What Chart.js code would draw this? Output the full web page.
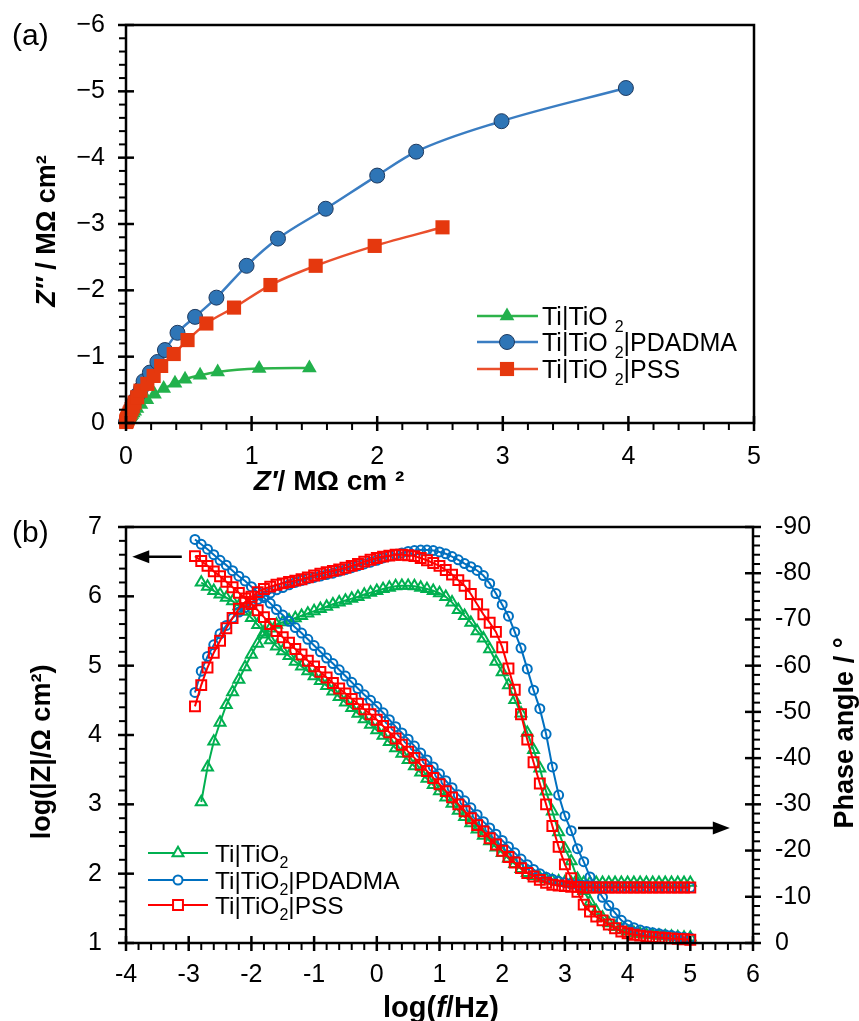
<!DOCTYPE html>
<html><head><meta charset="utf-8">
<script src="https://cdn.jsdelivr.net/npm/chart.js@4.4.1/dist/chart.umd.min.js"></script>
<style>
html,body{margin:0;padding:0;background:#fff;}
body{width:859px;height:1021px;overflow:hidden;position:relative;}
#ca{position:absolute;left:0;top:0;}
#cb{position:absolute;left:0;top:500px;}
</style></head>
<body>
<canvas id="ca" width="859" height="500"></canvas>
<canvas id="cb" width="859" height="521"></canvas>
<script>
// ---------------- DATA ----------------
const seriesNames = ['Ti|TiO2', 'Ti|TiO2|PDADMA', 'Ti|TiO2|PSS'];

// (a) Nyquist, Z' and Z'' in MΩ cm²
const nyqTiO2X = [0.005,0.008,0.010,0.012,0.015,0.018,0.022,0.027,0.032,0.039,0.047,0.057,0.069,0.087,0.119,0.166,0.227,0.30,0.39,0.47,0.59,0.73,1.06,1.46];
const nyqTiO2Y = [-0.015,-0.025,-0.033,-0.041,-0.049,-0.057,-0.067,-0.079,-0.093,-0.108,-0.130,-0.152,-0.178,-0.217,-0.278,-0.352,-0.434,-0.52,-0.60,-0.66,-0.72,-0.77,-0.82,-0.83];
const nyqPdadmaX = [0.003,0.004,0.005,0.007,0.009,0.011,0.014,0.018,0.023,0.029,0.037,0.047,0.059,0.074,0.094,0.12,0.14,0.19,0.25,0.31,0.41,0.55,0.72,0.96,1.21,1.59,2.00,2.31,2.99,3.98];
const nyqPdadmaY = [-0.025,-0.030,-0.037,-0.046,-0.057,-0.070,-0.086,-0.105,-0.127,-0.155,-0.191,-0.235,-0.289,-0.347,-0.427,-0.52,-0.63,-0.76,-0.92,-1.10,-1.36,-1.60,-1.89,-2.37,-2.78,-3.23,-3.73,-4.09,-4.55,-5.05];
const nyqPssX = [0.002,0.004,0.006,0.0075,0.009,0.012,0.015,0.018,0.022,0.028,0.035,0.044,0.054,0.068,0.089,0.115,0.17,0.22,0.28,0.38,0.49,0.64,0.86,1.15,1.51,1.98,2.52];
const nyqPssY = [-0.015,-0.03,-0.039,-0.046,-0.055,-0.067,-0.080,-0.096,-0.115,-0.142,-0.170,-0.209,-0.251,-0.309,-0.388,-0.487,-0.59,-0.71,-0.86,-1.04,-1.25,-1.50,-1.74,-2.08,-2.37,-2.67,-2.95];

// (b) Bode: log f
const logF = [-2.9,-2.8,-2.7,-2.6,-2.5,-2.4,-2.3,-2.2,-2.1,-2.0,-1.9,-1.8,-1.7,-1.6,-1.5,-1.4,-1.3,-1.2,-1.1,-1.0,-0.9,-0.8,-0.7,-0.6,-0.5,-0.4,-0.3,-0.2,-0.1,0.0,0.1,0.2,0.3,0.4,0.5,0.6,0.7,0.8,0.9,1.0,1.1,1.2,1.3,1.4,1.5,1.6,1.7,1.8,1.9,2.0,2.1,2.2,2.3,2.4,2.5,2.6,2.7,2.8,2.9,3.0,3.1,3.2,3.3,3.4,3.5,3.6,3.7,3.8,3.9,4.0,4.1,4.2,4.3,4.4,4.5,4.6,4.7,4.8,4.9,5.0];
const logFTiO2 = [-2.8,-2.7,-2.6,-2.5,-2.4,-2.3,-2.2,-2.1,-2.0,-1.9,-1.8,-1.7,-1.6,-1.5,-1.4,-1.3,-1.2,-1.1,-1.0,-0.9,-0.8,-0.7,-0.6,-0.5,-0.4,-0.3,-0.2,-0.1,0.0,0.1,0.2,0.3,0.4,0.5,0.6,0.7,0.8,0.9,1.0,1.1,1.2,1.3,1.4,1.5,1.6,1.7,1.8,1.9,2.0,2.1,2.2,2.3,2.4,2.5,2.6,2.7,2.8,2.9,3.0,3.1,3.2,3.3,3.4,3.5,3.6,3.7,3.8,3.9,4.0,4.1,4.2,4.3,4.4,4.5,4.6,4.7,4.8,4.9,5.0];

// log(|Z| / Ω cm²)
const logZTiO2 = [6.20,6.14,6.08,6.03,5.98,5.93,5.86,5.78,5.69,5.59,5.48,5.37,5.28,5.21,5.14,5.06,4.99,4.92,4.85,4.78,4.71,4.63,4.55,4.47,4.39,4.31,4.23,4.15,4.07,3.99,3.90,3.81,3.73,3.64,3.55,3.46,3.37,3.28,3.19,3.10,3.01,2.91,2.82,2.73,2.64,2.55,2.47,2.38,2.30,2.22,2.14,2.07,2.01,1.97,1.94,1.92,1.90,1.89,1.88,1.87,1.87,1.87,1.87,1.87,1.87,1.87,1.87,1.87,1.87,1.87,1.87,1.87,1.87,1.87,1.87,1.87,1.87,1.87,1.87];
const logZPdadma = [6.82,6.75,6.68,6.60,6.52,6.45,6.37,6.29,6.22,6.14,6.06,5.98,5.90,5.81,5.73,5.64,5.55,5.47,5.38,5.29,5.20,5.11,5.03,4.94,4.85,4.76,4.67,4.58,4.50,4.41,4.32,4.22,4.12,4.03,3.94,3.84,3.74,3.64,3.54,3.44,3.34,3.24,3.14,3.05,2.95,2.85,2.75,2.66,2.57,2.48,2.39,2.30,2.21,2.13,2.06,2.00,1.95,1.92,1.89,1.87,1.85,1.84,1.83,1.82,1.82,1.81,1.81,1.81,1.81,1.81,1.81,1.81,1.81,1.80,1.80,1.80,1.80,1.80,1.80,1.80];
const logZPss = [6.58,6.51,6.44,6.36,6.29,6.21,6.13,6.05,5.97,5.89,5.80,5.70,5.60,5.50,5.41,5.33,5.24,5.16,5.07,4.99,4.91,4.83,4.75,4.67,4.60,4.52,4.45,4.37,4.30,4.22,4.13,4.04,3.95,3.86,3.76,3.67,3.57,3.48,3.38,3.29,3.19,3.10,3.00,2.90,2.80,2.70,2.61,2.51,2.42,2.33,2.24,2.16,2.08,2.01,1.96,1.91,1.87,1.84,1.83,1.82,1.81,1.81,1.80,1.80,1.80,1.80,1.80,1.80,1.80,1.80,1.80,1.80,1.80,1.80,1.80,1.80,1.80,1.80,1.80,1.80];

// phase angle (°)
const phaseTiO2 = [-30.5,-38.0,-43.6,-47.7,-51.5,-54.3,-57.0,-59.7,-62.4,-64.8,-66.8,-68.1,-68.9,-69.4,-69.8,-70.3,-70.8,-71.3,-71.8,-72.3,-72.8,-73.3,-73.7,-74.1,-74.5,-74.9,-75.4,-75.8,-76.2,-76.6,-76.9,-77.2,-77.3,-77.3,-77.2,-76.9,-76.6,-76.2,-75.7,-74.9,-73.7,-72.1,-70.8,-69.3,-67.5,-65.9,-63.6,-60.9,-58.6,-55.8,-52.6,-49.7,-45.5,-41.8,-37.8,-32.8,-28.5,-24.0,-20.4,-17.7,-13.9,-11.3,-8.9,-6.9,-5.5,-4.3,-3.5,-2.9,-2.5,-2.2,-2.0,-1.8,-1.7,-1.6,-1.5,-1.4,-1.3,-1.2,-1.2];
const phasePdadma = [-54.2,-58.8,-62.0,-64.5,-66.9,-68.7,-70.3,-71.6,-72.6,-73.5,-74.3,-75.0,-75.7,-76.4,-76.9,-77.5,-78.0,-78.4,-78.8,-79.1,-79.4,-79.7,-80.0,-80.4,-80.8,-81.2,-81.6,-82.0,-82.4,-82.8,-83.3,-83.7,-84.1,-84.4,-84.7,-84.9,-85.0,-85.0,-84.9,-84.6,-84.2,-83.6,-82.9,-82.1,-81.4,-80.6,-79.5,-77.8,-75.6,-73.2,-70.7,-67.3,-63.8,-59.3,-54.7,-50.7,-45.2,-38.1,-32.0,-27.5,-24.3,-20.4,-17.6,-14.3,-12.0,-9.9,-8.1,-6.5,-4.9,-3.9,-3.3,-2.8,-2.5,-2.2,-2.0,-1.8,-1.6,-1.4,-1.2,-1.1];
const phasePss = [-51.2,-55.8,-59.6,-62.8,-65.4,-68.1,-70.3,-72.3,-73.8,-74.9,-75.9,-76.6,-77.1,-77.5,-77.8,-78.1,-78.4,-78.7,-79.1,-79.5,-79.9,-80.2,-80.5,-80.8,-81.2,-81.6,-82.0,-82.5,-82.9,-83.3,-83.6,-83.8,-84.0,-84.0,-83.9,-83.7,-83.3,-82.8,-82.2,-81.6,-80.7,-79.7,-78.5,-77.3,-75.5,-73.3,-71.1,-69.3,-67.3,-64.0,-59.4,-54.8,-49.5,-44.0,-39.1,-34.5,-30.0,-25.3,-20.8,-17.0,-14.0,-11.1,-8.3,-6.8,-5.7,-4.9,-4.0,-3.2,-2.5,-2.1,-1.8,-1.6,-1.4,-1.3,-1.2,-1.1,-1.0,-0.9,-0.8,-0.7];

// tick labels
const nyqXTicks = [0,1,2,3,4,5];
const nyqYTicks = [-6,-5,-4,-3,-2,-1,0];
const bodeXTicks = [-4,-3,-2,-1,0,1,2,3,4,5,6];
const bodeZTicks = [1,2,3,4,5,6,7];
const bodePhaseTicks = [-90,-80,-70,-60,-50,-40,-30,-20,-10,0];

// ---------------- HELPERS ----------------
const FAM = "'Liberation Sans', Arial, sans-serif";
const zip = (xs, ys) => xs.map((x, i) => ({x: x, y: ys[i]}));

function rich(ctx, parts, x, y, rot, align) {
  ctx.save();
  ctx.translate(x, y);
  if (rot) ctx.rotate(rot);
  let w = 0;
  parts.forEach(p => { ctx.font = p.f; p.w = ctx.measureText(p.t).width; w += p.w; });
  let cx = align === 'left' ? 0 : -w / 2;
  ctx.textAlign = 'left'; ctx.textBaseline = 'alphabetic'; ctx.fillStyle = '#000';
  parts.forEach(p => { ctx.font = p.f; ctx.fillText(p.t, cx, p.dy || 0); cx += p.w; });
  ctx.restore();
}

function marker(ctx, style, x, y, r, fill, stroke, bw) {
  ctx.save();
  ctx.beginPath();
  if (style === 'circle') ctx.arc(x, y, r, 0, Math.PI * 2);
  else if (style === 'rect') { const s = r * Math.SQRT1_2; ctx.rect(x - s, y - s, 2 * s, 2 * s); }
  else if (style === 'triangle') {
    let a = 0;
    ctx.moveTo(x + Math.sin(a) * r, y - Math.cos(a) * r); a += 2 * Math.PI / 3;
    ctx.lineTo(x + Math.sin(a) * r, y - Math.cos(a) * r); a += 2 * Math.PI / 3;
    ctx.lineTo(x + Math.sin(a) * r, y - Math.cos(a) * r);
    ctx.closePath();
  }
  if (fill) { ctx.fillStyle = fill; ctx.fill(); }
  if (bw > 0) { ctx.lineWidth = bw; ctx.strokeStyle = stroke; ctx.stroke(); }
  ctx.restore();
}

function vals(min, max, step, skip) {
  const out = [];
  for (let k = 0; ; k++) {
    const v = min + k * step;
    if (v > max + 1e-9) break;
    if (skip && skip.some(m => Math.abs(m - v) < 1e-6)) continue;
    out.push(v);
  }
  return out;
}

function xTicks(ctx, scale, yPix, values, up, down) {
  values.forEach(v => {
    const x = scale.getPixelForValue(v);
    ctx.beginPath(); ctx.moveTo(x, yPix - up); ctx.lineTo(x, yPix + down); ctx.stroke();
  });
}
function yTicks(ctx, scale, xPix, values, left, right) {
  values.forEach(v => {
    const y = scale.getPixelForValue(v);
    ctx.beginPath(); ctx.moveTo(xPix - left, y); ctx.lineTo(xPix + right, y); ctx.stroke();
  });
}

function arrow(ctx, x1, y1, x2, y2) {
  const dir = Math.sign(x2 - x1);
  ctx.save();
  ctx.strokeStyle = '#000'; ctx.fillStyle = '#000'; ctx.lineWidth = 2.5;
  ctx.beginPath(); ctx.moveTo(x1, y1); ctx.lineTo(x2 - dir * 12, y2); ctx.stroke();
  ctx.beginPath(); ctx.moveTo(x2, y2); ctx.lineTo(x2 - dir * 17, y2 - 6.5); ctx.lineTo(x2 - dir * 17, y2 + 6.5); ctx.closePath(); ctx.fill();
  ctx.restore();
}

const tickFont = {family: FAM, size: 25};
const noPad = s => { s.paddingTop = 0; s.paddingBottom = 0; s.paddingLeft = 0; s.paddingRight = 0; };

// ---------------- CHART (a) ----------------
const colA = {
  green: '#22B14C', greenLine: '#2DB34A',
  blue: '#2E75B6', blueEdge: '#1F3A5F', blueLine: '#3A7DC2',
  red: '#E5380E', redLine: '#EA4F2C'
};

const plugA = {
  id: 'plugA',
  afterDatasetsDraw(chart) {
    const {ctx, chartArea: a, scales: {x, y}} = chart;
    ctx.save();
    ctx.strokeStyle = '#000'; ctx.lineCap = 'butt';
    ctx.lineWidth = 2.5;
    ctx.strokeRect(a.left, a.top, a.right - a.left, a.bottom - a.top);
    xTicks(ctx, x, a.bottom, nyqXTicks, 7, 8);
    yTicks(ctx, y, a.left, nyqYTicks, 8, 8);
    ctx.lineWidth = 2;
    xTicks(ctx, x, a.bottom, vals(0, 5, 0.2, nyqXTicks), 0, 7);
    yTicks(ctx, y, a.left, vals(-6, 0, 0.2, nyqYTicks), 7, 0);
    ctx.restore();

    // legend
    const rows = [
      {y: 316, c: colA.greenLine, st: 'triangle', r: 8.5, f: colA.green, e: colA.green, bw: 0, rest: ''},
      {y: 342, c: colA.blueLine, st: 'circle', r: 7.5, f: colA.blue, e: colA.blueEdge, bw: 1, rest: '|PDADMA'},
      {y: 369, c: colA.redLine, st: 'rect', r: 10, f: colA.red, e: colA.red, bw: 0, rest: '|PSS'}
    ];
    rows.forEach(rw => {
      ctx.save();
      ctx.strokeStyle = rw.c; ctx.lineWidth = 2.5;
      ctx.beginPath(); ctx.moveTo(477, rw.y); ctx.lineTo(538, rw.y); ctx.stroke();
      ctx.restore();
      marker(ctx, rw.st, 507, rw.y, rw.r, rw.f, rw.e, rw.bw);
      const parts = [{t: 'Ti|TiO ', f: '25px ' + FAM}, {t: '2', f: '16px ' + FAM, dy: 7}];
      if (rw.rest) parts.push({t: rw.rest, f: '25px ' + FAM});
      rich(ctx, parts, 542, rw.y + 9, 0, 'left');
    });
  },
  afterDraw(chart) {
    const ctx = chart.ctx;
    rich(ctx, [{t: '(a)', f: '30px ' + FAM}], 12, 45, 0, 'left');
    rich(ctx, [
      {t: 'Z\u2033', f: 'italic bold 27px ' + FAM},
      {t: ' / M\u03A9 cm\u00B2', f: 'bold 27px ' + FAM}
    ], 55, 231, -Math.PI / 2, 'center');
    rich(ctx, [
      {t: 'Z\u2032', f: 'italic bold 28px ' + FAM},
      {t: '/ M\u03A9 cm \u00B2', f: 'bold 28px ' + FAM}
    ], 329, 490, 0, 'center');
  }
};

new Chart(document.getElementById('ca'), {
  type: 'scatter',
  data: {
    datasets: [
      {label: seriesNames[2], data: zip(nyqPssX, nyqPssY), order: 0, showLine: true, cubicInterpolationMode: 'monotone',
       borderColor: colA.redLine, borderWidth: 2.5, pointStyle: 'rect', pointRadius: 10, pointBackgroundColor: colA.red,
       pointBorderColor: colA.red, pointBorderWidth: 0, clip: false},
      {label: seriesNames[1], data: zip(nyqPdadmaX, nyqPdadmaY), order: 1, showLine: true, cubicInterpolationMode: 'monotone',
       borderColor: colA.blueLine, borderWidth: 2.5, pointStyle: 'circle', pointRadius: 7.5, pointBackgroundColor: colA.blue,
       pointBorderColor: colA.blueEdge, pointBorderWidth: 1, clip: false},
      {label: seriesNames[0], data: zip(nyqTiO2X, nyqTiO2Y), order: 2, showLine: true, cubicInterpolationMode: 'monotone',
       borderColor: colA.greenLine, borderWidth: 2.5, pointStyle: 'triangle', pointRadius: 8.5, pointBackgroundColor: colA.green,
       pointBorderColor: colA.green, pointBorderWidth: 0, clip: false}
    ]
  },
  options: {
    responsive: false, animation: false, devicePixelRatio: 1, events: [],
    layout: {padding: {top: 25, right: 105, left: 0, bottom: 0}},
    plugins: {legend: {display: false}, tooltip: {enabled: false}},
    scales: {
      x: {
        type: 'linear', min: 0, max: 5,
        afterBuildTicks: s => { s.ticks = nyqXTicks.map(v => ({value: v})); },
        afterFit: s => { s.height = 77; noPad(s); },
        grid: {display: false, drawTicks: false}, border: {display: false},
        ticks: {font: tickFont, color: '#000', padding: 19, maxRotation: 0, autoSkip: false, callback: v => String(v)}
      },
      y: {
        type: 'linear', min: -6, max: 0, reverse: true,
        afterBuildTicks: s => { s.ticks = nyqYTicks.map(v => ({value: v})); },
        afterFit: s => { s.width = 126; noPad(s); },
        grid: {display: false, drawTicks: false}, border: {display: false},
        ticks: {font: tickFont, color: '#000', padding: 21, autoSkip: false,
                callback: v => v === 0 ? '0' : '\u2212' + Math.abs(v)}
      }
    }
  },
  plugins: [plugA]
});

// ---------------- CHART (b) ----------------
const colB = {green: '#00B050', blue: '#0070C0', red: '#FF0000'};
const baseB = {showLine: true, borderWidth: 2, pointBorderWidth: 2, pointBackgroundColor: 'rgba(0,0,0,0)', tension: 0, clip: false};

const plugB = {
  id: 'plugB',
  afterDatasetsDraw(chart) {
    const {ctx, chartArea: a, scales: {x, yL, yR}} = chart;
    ctx.save();
    ctx.strokeStyle = '#000'; ctx.lineCap = 'butt';
    ctx.lineWidth = 2.5;
    ctx.strokeRect(a.left, a.top, a.right - a.left, a.bottom - a.top);
    xTicks(ctx, x, a.bottom, bodeXTicks, 7, 8);
    yTicks(ctx, yL, a.left, bodeZTicks, 8, 8);
    yTicks(ctx, yR, a.right, bodePhaseTicks, 8, 8);
    ctx.lineWidth = 2;
    xTicks(ctx, x, a.bottom, vals(-4, 6, 0.2, bodeXTicks), 0, 7);
    yTicks(ctx, yL, a.left, vals(1, 7, 0.2, bodeZTicks), 7, 0);
    yTicks(ctx, yR, a.right, vals(-90, 0, 2, bodePhaseTicks), 0, 7);
    ctx.restore();

    // arrows pointing to the axis each family belongs to
    arrow(ctx, x.getPixelForValue(-3.11), yL.getPixelForValue(6.57), x.getPixelForValue(-3.9), yL.getPixelForValue(6.57));
    arrow(ctx, x.getPixelForValue(3.21), yR.getPixelForValue(-24.9), x.getPixelForValue(5.63), yR.getPixelForValue(-24.9));

    // legend
    const rows = [
      {y: 353, c: colB.green, st: 'triangle', r: 6.3, rest: ''},
      {y: 380, c: colB.blue, st: 'circle', r: 4.5, rest: '|PDADMA'},
      {y: 405, c: colB.red, st: 'rect', r: 7, rest: '|PSS'}
    ];
    rows.forEach(rw => {
      ctx.save();
      ctx.strokeStyle = rw.c; ctx.lineWidth = 2;
      ctx.beginPath(); ctx.moveTo(148, rw.y); ctx.lineTo(208, rw.y); ctx.stroke();
      ctx.restore();
      marker(ctx, rw.st, 178, rw.y, rw.r, '#fff', rw.c, 2);
      const parts = [{t: 'Ti|TiO', f: '24.5px ' + FAM}, {t: '2', f: '16px ' + FAM, dy: 6}];
      if (rw.rest) parts.push({t: rw.rest, f: '24.5px ' + FAM});
      rich(ctx, parts, 215, rw.y + 9, 0, 'left');
    });
  },
  afterDraw(chart) {
    const ctx = chart.ctx;
    rich(ctx, [{t: '(b)', f: '30px ' + FAM}], 12, 42, 0, 'left');
    rich(ctx, [{t: 'log(|Z|/\u03A9 cm\u00B2)', f: 'bold 27px ' + FAM}], 50, 252, -Math.PI / 2, 'center');
    rich(ctx, [{t: 'Phase angle / \u00B0', f: 'bold 27px ' + FAM}], 853, 233, -Math.PI / 2, 'center');
    rich(ctx, [
      {t: 'log(', f: 'bold 29px ' + FAM},
      {t: 'f', f: 'italic bold 29px ' + FAM},
      {t: '/Hz)', f: 'bold 29px ' + FAM}
    ], 441, 517, 0, 'center');
  }
};

new Chart(document.getElementById('cb'), {
  type: 'scatter',
  data: {
    datasets: [
      Object.assign({label: seriesNames[2] + ' |Z|', data: zip(logF, logZPss), yAxisID: 'yL', order: 0,
        borderColor: colB.red, pointBorderColor: colB.red, pointStyle: 'rect', pointRadius: 7}, baseB),
      Object.assign({label: seriesNames[2] + ' phase', data: zip(logF, phasePss), yAxisID: 'yR', order: 1,
        borderColor: colB.red, pointBorderColor: colB.red, pointStyle: 'rect', pointRadius: 7}, baseB),
      Object.assign({label: seriesNames[1] + ' |Z|', data: zip(logF, logZPdadma), yAxisID: 'yL', order: 2,
        borderColor: colB.blue, pointBorderColor: colB.blue, pointStyle: 'circle', pointRadius: 4.5}, baseB),
      Object.assign({label: seriesNames[1] + ' phase', data: zip(logF, phasePdadma), yAxisID: 'yR', order: 3,
        borderColor: colB.blue, pointBorderColor: colB.blue, pointStyle: 'circle', pointRadius: 4.5}, baseB),
      Object.assign({label: seriesNames[0] + ' |Z|', data: zip(logFTiO2, logZTiO2), yAxisID: 'yL', order: 4,
        borderColor: colB.green, pointBorderColor: colB.green, pointStyle: 'triangle', pointRadius: 6.3}, baseB),
      Object.assign({label: seriesNames[0] + ' phase', data: zip(logFTiO2, phaseTiO2), yAxisID: 'yR', order: 5,
        borderColor: colB.green, pointBorderColor: colB.green, pointStyle: 'triangle', pointRadius: 6.3}, baseB)
    ]
  },
  options: {
    responsive: false, animation: false, devicePixelRatio: 1, events: [],
    layout: {padding: {top: 27, right: 0, left: 0, bottom: 0}},
    plugins: {legend: {display: false}, tooltip: {enabled: false}},
    scales: {
      x: {
        type: 'linear', min: -4, max: 6,
        afterBuildTicks: s => { s.ticks = bodeXTicks.map(v => ({value: v})); },
        afterFit: s => { s.height = 78; noPad(s); },
        grid: {display: false, drawTicks: false}, border: {display: false},
        ticks: {font: tickFont, color: '#000', padding: 17, maxRotation: 0, autoSkip: false, callback: v => String(v)}
      },
      yL: {
        type: 'linear', position: 'left', min: 1, max: 7,
        afterBuildTicks: s => { s.ticks = bodeZTicks.map(v => ({value: v})); },
        afterFit: s => { s.width = 126; noPad(s); },
        grid: {display: false, drawTicks: false}, border: {display: false},
        ticks: {font: tickFont, color: '#000', padding: 24, autoSkip: false, callback: v => String(v)}
      },
      yR: {
        type: 'linear', position: 'right', min: -90, max: 0, reverse: true,
        afterBuildTicks: s => { s.ticks = bodePhaseTicks.map(v => ({value: v})); },
        afterFit: s => { s.width = 106; noPad(s); },
        grid: {display: false, drawTicks: false}, border: {display: false},
        ticks: {font: tickFont, color: '#000', padding: 22, autoSkip: false, callback: v => String(v)}
      }
    }
  },
  plugins: [plugB]
});
</script>
</body></html>
